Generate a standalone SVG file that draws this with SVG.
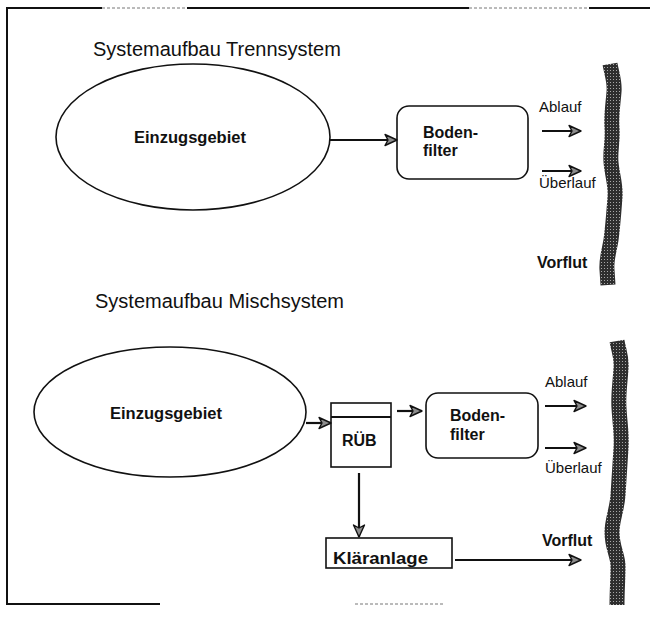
<svg xmlns="http://www.w3.org/2000/svg" width="650" height="628" viewBox="0 0 650 628">
  <style>
    .title { font-family: "Liberation Sans", Arial, sans-serif; font-size: 20px; fill: #111; }
    .bold { font-family: "Liberation Sans", Arial, sans-serif; font-size: 16px; font-weight: bold; fill: #111; }
    .reg { font-family: "Liberation Sans", Arial, sans-serif; font-size: 15px; fill: #111; }
    .shape { fill: #fff; stroke: #111; stroke-width: 1.6; }
    .conn { stroke: #111; stroke-width: 2.2; fill: none; marker-end: url(#arrow); }
    .river { fill: none; stroke: url(#stip); stroke-width: 15; stroke-linejoin: round; }
    .frame { stroke: #111; stroke-width: 2; fill: none; }
    .faint { stroke: #777; stroke-width: 1; stroke-dasharray: 3 2; fill: none; }
  </style>
  <defs>
    <marker id="arrow" markerUnits="userSpaceOnUse" viewBox="0 0 14 14" markerWidth="14" markerHeight="14" refX="13" refY="7" orient="auto">
      <path d="M1,1.5 L13,7 L1,12.5 L4,7 Z" fill="#8c8c8c" stroke="#111" stroke-width="1.4" stroke-linejoin="round"/>
    </marker>
    <pattern id="stip" patternUnits="userSpaceOnUse" width="3" height="3">
      <rect width="3" height="3" fill="#2e2e2e"/>
      <rect x="1" y="1" width="1" height="1" fill="#a8a8a8"/>
    </pattern>
  </defs>

  <g id="frame">
    <line class="frame" x1="7" y1="8" x2="102" y2="8"/>
    <line class="faint" x1="102" y1="8" x2="187" y2="8"/>
    <line class="frame" x1="187" y1="8" x2="469" y2="8"/>
    <line class="faint" x1="469" y1="8" x2="589" y2="8"/>
    <line class="frame" x1="589" y1="8" x2="650" y2="8"/>
    <line class="frame" x1="7" y1="7" x2="7" y2="605"/>
    <line class="frame" x1="6" y1="604" x2="160" y2="604"/>
    <line class="faint" x1="355" y1="604" x2="445" y2="604"/>
  </g>

  <text class="title" x="93" y="56">Systemaufbau Trennsystem</text>
  <text class="title" x="95" y="308">Systemaufbau Mischsystem</text>

  <!-- Trennsystem -->
  <g id="einzugsgebiet1">
    <ellipse class="shape" cx="193" cy="137" rx="137" ry="73"/>
    <text class="bold" x="190" y="143" text-anchor="middle" textLength="112" lengthAdjust="spacingAndGlyphs">Einzugsgebiet</text>
  </g>
  <g id="bodenfilter1">
    <rect class="shape" x="397" y="106" width="131" height="73" rx="12"/>
    <text class="bold" x="423" y="138">Boden-</text>
    <text class="bold" x="423" y="156">filter</text>
  </g>
  <g id="vorflut1">
    <path class="river" d="M610,64 C612,75 615,82 614,92 C613,105 611,115 612,128 C613,142 610,150 611,162 C612,175 616,185 615,197 C614,210 613,225 611,240 C609,252 606,260 607,270 L608,285"/>
    <text class="bold" x="537" y="268">Vorflut</text>
  </g>
  <g id="labels1">
    <text class="reg" x="539" y="112">Ablauf</text>
    <text class="reg" x="539" y="188">Überlauf</text>
  </g>

  <!-- Mischsystem -->
  <g id="einzugsgebiet2">
    <ellipse class="shape" cx="170" cy="412" rx="136" ry="65"/>
    <text class="bold" x="166" y="419" text-anchor="middle" textLength="112" lengthAdjust="spacingAndGlyphs">Einzugsgebiet</text>
  </g>
  <g id="rueb">
    <rect class="shape" x="331" y="403" width="60" height="64"/>
    <line x1="331" y1="417" x2="391" y2="417" stroke="#111" stroke-width="2.2"/>
    <text class="bold" x="342" y="446">RÜB</text>
  </g>
  <g id="bodenfilter2">
    <rect class="shape" x="426" y="393" width="112" height="65" rx="12"/>
    <text class="bold" x="450" y="421">Boden-</text>
    <text class="bold" x="450" y="440">filter</text>
  </g>
  <g id="klaeranlage">
    <rect class="shape" x="326" y="538" width="126" height="30"/>
    <text class="bold" x="333" y="564" textLength="95" lengthAdjust="spacingAndGlyphs">Kläranlage</text>
  </g>
  <g id="vorflut2">
    <path class="river" d="M617,341 C619,352 622,358 621,368 C620,385 618,395 619,408 C620,425 622,435 621,448 C620,465 619,480 618,495 C617,510 612,520 612,532 C612,548 618,555 618,566 C618,580 617,590 617,605"/>
    <text class="bold" x="542" y="546">Vorflut</text>
  </g>
  <g id="labels2">
    <text class="reg" x="545" y="387">Ablauf</text>
    <text class="reg" x="545" y="473">Überlauf</text>
  </g>

  <g id="connectors">
    <line class="conn" x1="330" y1="140" x2="397" y2="140"/>
    <line class="conn" x1="542" y1="131" x2="581" y2="131"/>
    <line class="conn" x1="542" y1="171" x2="581" y2="171"/>
    <line class="conn" x1="306" y1="423" x2="331" y2="423"/>
    <line class="conn" x1="397" y1="411" x2="422" y2="411"/>
    <line class="conn" x1="545" y1="406" x2="586" y2="406"/>
    <line class="conn" x1="545" y1="448" x2="586" y2="448"/>
    <line class="conn" x1="359" y1="473" x2="359" y2="537"/>
    <line class="conn" x1="455" y1="560" x2="581" y2="560"/>
  </g>
</svg>
